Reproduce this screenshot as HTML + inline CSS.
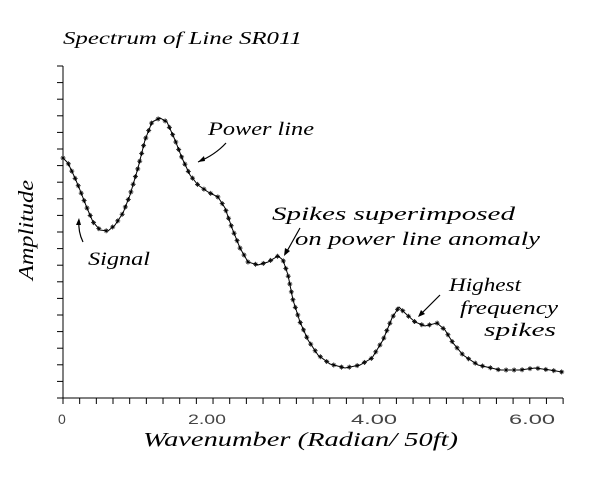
<!DOCTYPE html>
<html><head><style>
body{margin:0;background:#fff;}
svg{display:block;}
.s{font-family:"Liberation Serif",serif;font-style:italic;fill:#000;}
.t{font-family:"Liberation Sans",sans-serif;fill:#444;font-size:14px;}
</style></head><body>
<svg width="600" height="479" viewBox="0 0 600 479" xmlns="http://www.w3.org/2000/svg">
<defs>
<g id="m" stroke="#000" stroke-width="0.8"><line x1="-2.5" y1="0" x2="2.5" y2="0"/><line x1="0" y1="-2.5" x2="0" y2="2.5"/><line x1="-1.6" y1="-1.6" x2="1.6" y2="1.6"/><line x1="-1.6" y1="1.6" x2="1.6" y2="-1.6"/></g>
</defs>
<text class="s" x="63" y="44" font-size="18" textLength="239" lengthAdjust="spacingAndGlyphs">Spectrum of Line SR011</text>
<g stroke="#000" stroke-width="1">
<line x1="63" y1="66" x2="63" y2="398"/>
<line x1="63" y1="398" x2="563" y2="398"/>
</g>
<g id="yt" stroke="#000" stroke-width="1"></g>
<g id="xt" stroke="#000" stroke-width="1"></g>
<text class="t" x="58" y="424">0</text>
<text class="t" x="188" y="424" textLength="38" lengthAdjust="spacingAndGlyphs">2.00</text>
<text class="t" x="351" y="424" textLength="46" lengthAdjust="spacingAndGlyphs">4.00</text>
<text class="t" x="509" y="424" textLength="46" lengthAdjust="spacingAndGlyphs">6.00</text>
<text class="s" x="143" y="446" font-size="20" textLength="315" lengthAdjust="spacingAndGlyphs">Wavenumber (Radian/ 50ft)</text>
<text class="s" font-size="21" transform="translate(33,230) rotate(-90)" text-anchor="middle" textLength="100" lengthAdjust="spacingAndGlyphs">Amplitude</text>
<path id="c" fill="none" stroke="#000" stroke-width="1"/>
<g id="mk"></g>
<text class="s" x="208" y="135" font-size="19" textLength="106" lengthAdjust="spacingAndGlyphs">Power line</text>
<path d="M226 143 Q215 155 198 162" fill="none" stroke="#000" stroke-width="1.2"/>
<path d="M198 162 l6 -6 l1 5 z" fill="#000"/>
<text class="s" x="88" y="265" font-size="19" textLength="62" lengthAdjust="spacingAndGlyphs">Signal</text>
<path d="M83 242 Q78 232 79 220" fill="none" stroke="#000" stroke-width="1.2"/>
<path d="M79 218 l-3 7 l5 0 z" fill="#000"/>
<text class="s" x="272" y="220" font-size="19" textLength="243" lengthAdjust="spacingAndGlyphs">Spikes superimposed</text>
<text class="s" x="295" y="245" font-size="19" textLength="245" lengthAdjust="spacingAndGlyphs">on power line anomaly</text>
<path d="M300 228 L286 253" fill="none" stroke="#000" stroke-width="1.2"/>
<path d="M284 256 l1 -8 l5 3 z" fill="#000"/>
<text class="s" x="449" y="291" font-size="19" textLength="72" lengthAdjust="spacingAndGlyphs">Highest</text>
<text class="s" x="460" y="314" font-size="19" textLength="98" lengthAdjust="spacingAndGlyphs">frequency</text>
<text class="s" x="484" y="336" font-size="19" textLength="72" lengthAdjust="spacingAndGlyphs">spikes</text>
<path d="M440 295 L419 316" fill="none" stroke="#000" stroke-width="1.2"/>
<path d="M418 317 l3 -7 l4 4 z" fill="#000"/>
</svg>
<script>
var ns="http://www.w3.org/2000/svg";
var yt=document.getElementById('yt'),xt=document.getElementById('xt');
for(var i=0;i<=20;i++){var y=66+i*16.6;var l=document.createElementNS(ns,'line');l.setAttribute('x1',57);l.setAttribute('x2',63);l.setAttribute('y1',y);l.setAttribute('y2',y);yt.appendChild(l);}
for(var i=0;i<=30;i++){var x=63+i*16.67;var l=document.createElementNS(ns,'line');l.setAttribute('x1',x);l.setAttribute('x2',x);l.setAttribute('y1',398);l.setAttribute('y2',404);xt.appendChild(l);}
var p=[[63,158],[68,163],[75,178],[80,190],[87,208],[93,222],[100,230],[108,231],[115,225],[123,213],[130,195],[138,168],[145,140],[152,122],[160,118],[167,122],[175,140],[182,158],[190,175],[198,185],[208,192],[218,197],[225,208],[232,228],[240,248],[248,262],[258,265],[268,262],[278,256],[283,260],[288,275],[293,300],[300,322],[308,340],[318,355],[330,364],[345,368],[360,365],[372,358],[383,340],[392,318],[399,307],[405,313],[415,322],[425,326],[437,323],[445,330],[453,343],[463,355],[478,365],[500,370],[520,370],[535,368],[550,370],[562,372]];
var d='M'+p[0][0]+' '+p[0][1];
for(var i=1;i<p.length;i++){var b=p[i];d+=' L'+b[0]+' '+b[1];}
var c=document.getElementById('c');c.setAttribute('d',d);
var L=c.getTotalLength(),mk=document.getElementById('mk');
for(var s=0;s<=L;s+=8){var q=c.getPointAtLength(s);var u=document.createElementNS(ns,'use');u.setAttribute('href','#m');u.setAttribute('x',q.x);u.setAttribute('y',q.y);mk.appendChild(u);}
</script>
</body></html>
